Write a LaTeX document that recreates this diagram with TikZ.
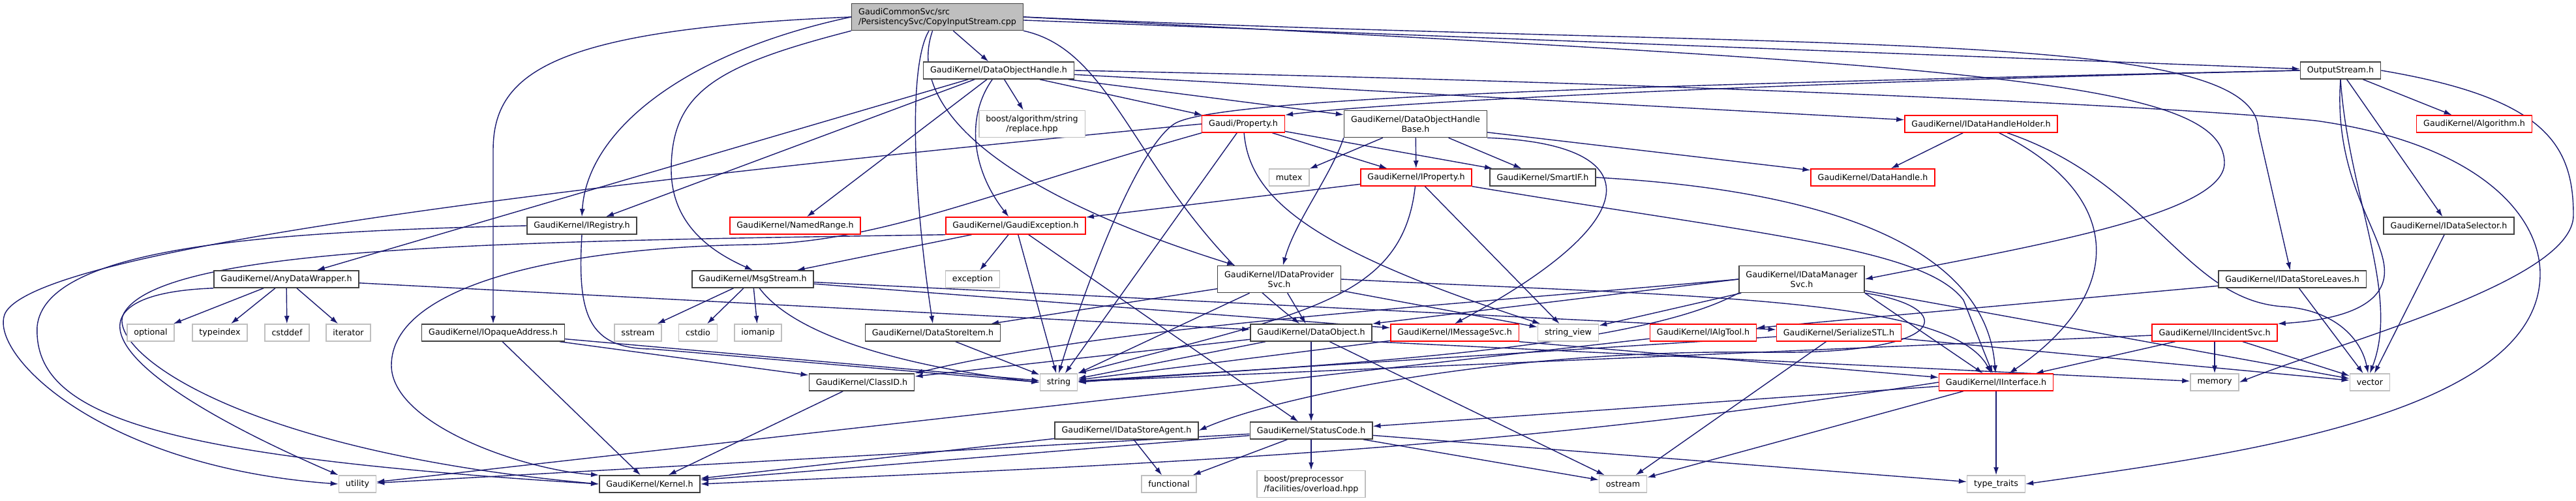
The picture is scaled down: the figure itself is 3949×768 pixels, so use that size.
\documentclass[tikz,border=0pt]{standalone}
\usepackage{fontspec}
\setmainfont{DejaVu Sans}
\usetikzlibrary{arrows.meta,backgrounds}
\definecolor{edgeblue}{HTML}{191970}
\definecolor{darkgrey}{HTML}{404040}
\definecolor{lightgrey}{HTML}{BFBFBF}
\tikzset{
  box/.style={rectangle,draw,fill=white,line width=1.5pt,inner xsep=10.5pt,inner ysep=2pt,
    minimum height=26pt,font=\fontsize{12.7}{15}\selectfont},
  header/.style={box,draw=darkgrey},
  cutoff/.style={box,draw=red},
  syshdr/.style={box,draw=lightgrey},
  rootfile/.style={box,draw=darkgrey,fill=lightgrey,align=left,minimum height=41pt},
  twoline/.style={align=center,minimum height=41pt},
  incl/.style={draw=edgeblue,line width=1.4pt,-{Latex[length=12pt,width=8pt]}}
}
\begin{document}
\begin{tikzpicture}[x=1pt,y=1pt]
\useasboundingbox (0,0) rectangle (3949,-768);
\node[rootfile] (cpp) at (1437,-26) {GaudiCommonSvc/src\\/PersistencySvc/CopyInputStream.cpp};
\node[header] (objhandle) at (1531,-108) {GaudiKernel/DataObjectHandle.h};
\node[header] (outstream) at (3588,-108) {OutputStream.h};
\node[syshdr,twoline] (replace) at (1582,-190) {boost/algorithm/string\\/replace.hpp};
\node[cutoff] (property) at (1906,-190) {Gaudi/Property.h};
\node[header,twoline] (handlebase) at (2170,-190) {GaudiKernel/DataObjectHandle\\Base.h};
\node[cutoff] (holder) at (3037,-190) {GaudiKernel/IDataHandleHolder.h};
\node[cutoff] (algorithm) at (3793,-190) {GaudiKernel/Algorithm.h};
\node[syshdr] (mutex) at (1976,-272) {mutex};
\node[cutoff] (iproperty) at (2171,-272) {GaudiKernel/IProperty.h};
\node[header] (smartif) at (2365,-272) {GaudiKernel/SmartIF.h};
\node[cutoff] (datahandle) at (2871,-272) {GaudiKernel/DataHandle.h};
\node[header] (registry) at (892,-346) {GaudiKernel/IRegistry.h};
\node[cutoff] (namedrange) at (1219,-346) {GaudiKernel/NamedRange.h};
\node[cutoff] (gaudiexc) at (1557,-346) {GaudiKernel/GaudiException.h};
\node[header] (selector) at (3754,-346) {GaudiKernel/IDataSelector.h};
\node[header] (anywrapper) at (439,-428) {GaudiKernel/AnyDataWrapper.h};
\node[header] (msgstream) at (1154,-428) {GaudiKernel/MsgStream.h};
\node[syshdr] (exception) at (1491,-428) {exception};
\node[header,twoline] (provider) at (1961,-428) {GaudiKernel/IDataProvider\\Svc.h};
\node[header,twoline] (manager) at (2762,-428) {GaudiKernel/IDataManager\\Svc.h};
\node[header] (leaves) at (3514,-428) {GaudiKernel/IDataStoreLeaves.h};
\node[syshdr] (optional) at (231,-510) {optional};
\node[syshdr] (typeindex) at (337,-510) {typeindex};
\node[syshdr] (cstddef) at (440,-510) {cstddef};
\node[syshdr] (iterator) at (534,-510) {iterator};
\node[header] (opaque) at (756,-510) {GaudiKernel/IOpaqueAddress.h};
\node[syshdr] (sstream) at (978,-510) {sstream};
\node[syshdr] (cstdio) at (1070,-510) {cstdio};
\node[syshdr] (iomanip) at (1162,-510) {iomanip};
\node[header] (storeitem) at (1430,-510) {GaudiKernel/DataStoreItem.h};
\node[header] (dataobject) at (2010,-510) {GaudiKernel/DataObject.h};
\node[cutoff] (imsgsvc) at (2230,-510) {GaudiKernel/IMessageSvc.h};
\node[syshdr] (stringview) at (2404,-510) {string\_view};
\node[cutoff] (algtool) at (2611,-510) {GaudiKernel/IAlgTool.h};
\node[cutoff] (serialize) at (2819,-510) {GaudiKernel/SerializeSTL.h};
\node[cutoff] (incident) at (3395,-510) {GaudiKernel/IIncidentSvc.h};
\node[header] (classid) at (1321,-586) {GaudiKernel/ClassID.h};
\node[syshdr] (string) at (1623,-586) {string};
\node[cutoff] (iinterface) at (3060,-586) {GaudiKernel/IInterface.h};
\node[syshdr] (memory) at (3395,-586) {memory};
\node[syshdr] (vector) at (3633,-586) {vector};
\node[header] (agent) at (1727,-660) {GaudiKernel/IDataStoreAgent.h};
\node[header] (statuscode) at (2010,-660) {GaudiKernel/StatusCode.h};
\node[syshdr] (utility) at (548,-742) {utility};
\node[header] (kernel) at (996,-742) {GaudiKernel/Kernel.h};
\node[syshdr] (functional) at (1792,-742) {functional};
\node[syshdr,twoline,align=left] (overload) at (2010,-742) {boost/preprocessor\\/facilities/overload.hpp};
\node[syshdr] (ostream) at (2488,-742) {ostream};
\node[syshdr] (typetraits) at (3060,-742) {type\_traits};
\begin{pgfonlayer}{background}
\fill[white] (0,0) rectangle (3949,-768);
\foreach \s/\t in {cpp/objhandle, cpp/outstream,
    objhandle/replace, objhandle/namedrange, objhandle/handlebase, objhandle/holder,
    objhandle/property, objhandle/registry, objhandle/anywrapper,
    property/iproperty, property/smartif, property/string,
    outstream/algorithm, outstream/selector,
    handlebase/mutex, handlebase/iproperty, handlebase/smartif, handlebase/datahandle,
    holder/datahandle, iproperty/gaudiexc, iproperty/stringview,
    gaudiexc/msgstream, gaudiexc/exception, gaudiexc/string, gaudiexc/statuscode,
    selector/vector,
    anywrapper/optional, anywrapper/typeindex, anywrapper/cstddef, anywrapper/iterator, anywrapper/dataobject,
    opaque/kernel, opaque/classid, opaque/string,
    msgstream/sstream, msgstream/cstdio, msgstream/iomanip, msgstream/imsgsvc, msgstream/serialize,
    storeitem/string,
    provider/storeitem, provider/string, provider/dataobject, provider/stringview,
    manager/stringview, manager/vector,
    leaves/algtool, leaves/vector,
    incident/iinterface, incident/memory, incident/vector, incident/string,
    dataobject/statuscode, dataobject/ostream, dataobject/classid, dataobject/string,
    imsgsvc/string, algtool/utility,
    serialize/ostream, serialize/string, serialize/vector,
    classid/kernel,
    iinterface/statuscode, iinterface/ostream, iinterface/typetraits,
    agent/kernel, agent/functional,
    statuscode/kernel, statuscode/functional, statuscode/overload, statuscode/ostream,
    statuscode/typetraits, statuscode/utility}
  \draw[incl] (\s) -- (\t);
\draw[incl] (cpp.west) .. controls (1050,-80) and (900,-200) .. (registry.north);
\draw[incl] (cpp.west) .. controls (850,-45) and (756,-110) .. (756,-230) -- (opaque.north);
\draw[incl] (cpp.south west) .. controls (1100,-100) and (1029,-140) .. (1029,-260)
  .. controls (1029,-350) and (1100,-390) .. (msgstream.north);
\draw[incl] (cpp) .. controls (1392,-100) and (1400,-300) .. (storeitem.north);
\draw[incl] (cpp) .. controls (1390,-160) and (1520,-290) .. (provider);
\draw[incl] (cpp.south east) .. controls (1720,-80) and (1740,-300) .. (dataobject);
\draw[incl] (cpp.east) .. controls (2800,-80) and (3460,-40) .. (3462,-200) -- (leaves);
\draw[incl] (cpp.east) .. controls (3000,-100) and (3410,-120) .. (3410,-250)
  .. controls (3410,-330) and (3100,-380) .. (manager.east);
\draw[incl] (objhandle) .. controls (1480,-180) and (1490,-260) .. (gaudiexc);
\draw[incl] (objhandle.east) .. controls (2500,-125) and (3300,-160) .. (3550,-185)
  .. controls (3800,-220) and (3894,-330) .. (3894,-420)
  .. controls (3894,-640) and (3400,-700) .. (typetraits.east);
\draw[incl] (property.west) .. controls (900,-280) and (60,-380) .. (8,-480)
  .. controls (-20,-540) and (150,-715) .. (utility.west);
\draw[incl] (property.south west) .. controls (1500,-300) and (1350,-372) .. (1150,-375)
  .. controls (850,-380) and (600,-440) .. (600,-560)
  .. controls (600,-650) and (800,-720) .. (kernel.north west);
\draw[incl] (property) .. controls (1915,-300) and (2000,-380) .. (stringview);
\draw[incl] (outstream.west) .. controls (2600,-130) and (2100,-160) .. (property.north east);
\draw[incl] (outstream.west) .. controls (2500,-130) and (1860,-150) .. (1800,-190)
  .. controls (1740,-230) and (1660,-450) .. (string.north);
\draw[incl] (outstream.south) .. controls (3575,-300) and (3680,-380) .. (3650,-440)
  .. controls (3630,-480) and (3560,-492) .. (incident.north east);
\draw[incl] (outstream.south) .. controls (3600,-300) and (3680,-450) .. (vector.north);
\draw[incl] (outstream.east) .. controls (3900,-150) and (3945,-220) .. (3945,-330)
  .. controls (3945,-430) and (3600,-520) .. (memory.east);
\draw[incl] (handlebase.south east) .. controls (2520,-220) and (2540,-330) .. (imsgsvc.north);
\draw[incl] (handlebase.south west) .. controls (2040,-270) and (1985,-340) .. (provider);
\draw[incl] (holder) .. controls (3259,-300) and (3259,-450) .. (iinterface);
\draw[incl] (holder) .. controls (3300,-280) and (3350,-460) .. (3500,-470)
  .. controls (3580,-475) and (3620,-520) .. (vector);
\draw[incl] (iproperty) .. controls (2150,-460) and (2000,-480) .. (string.north east);
\draw[incl] (iproperty.south east) .. controls (2700,-360) and (2950,-380) .. (3010,-460) -- (iinterface);
\draw[incl] (smartif.east) .. controls (2950,-300) and (3050,-450) .. (iinterface);
\draw[incl] (gaudiexc.south west) .. controls (800,-370) and (250,-375) .. (190,-480)
  .. controls (160,-532) and (350,-690) .. (kernel.west);
\draw[incl] (registry.west) .. controls (400,-355) and (70,-380) .. (57,-500)
  .. controls (50,-640) and (250,-700) .. (kernel.west);
\draw[incl] (registry.south) .. controls (885,-480) and (900,-535) .. (1000,-535) -- (string.west);
\draw[incl] (anywrapper.south west) .. controls (100,-450) and (130,-560) .. (utility.north west);
\draw[incl] (msgstream) .. controls (1230,-530) and (1450,-570) .. (string.west);
\draw[incl] (provider.east) .. controls (2600,-455) and (2990,-455) .. (iinterface);
\draw[incl] (manager.west) .. controls (2200,-470) and (1700,-500) .. (classid.north east);
\draw[incl] (manager.west) -- (dataobject.north east);
\draw[incl] (manager.south west) .. controls (2500,-540) and (2000,-560) .. (string.east);
\draw[incl] (manager.south east) .. controls (3000,-470) and (3000,-545) .. (2700,-540)
  .. controls (2300,-535) and (1950,-610) .. (agent.east);
\draw[incl] (manager.south east) -- (iinterface);
\draw[incl] (imsgsvc.south east) -- (iinterface);
\draw[incl] (dataobject.south east) -- (memory);
\draw[incl] (iinterface.west) .. controls (2300,-690) and (1800,-710) .. (kernel.east);
\end{pgfonlayer}
\end{tikzpicture}
\end{document}
